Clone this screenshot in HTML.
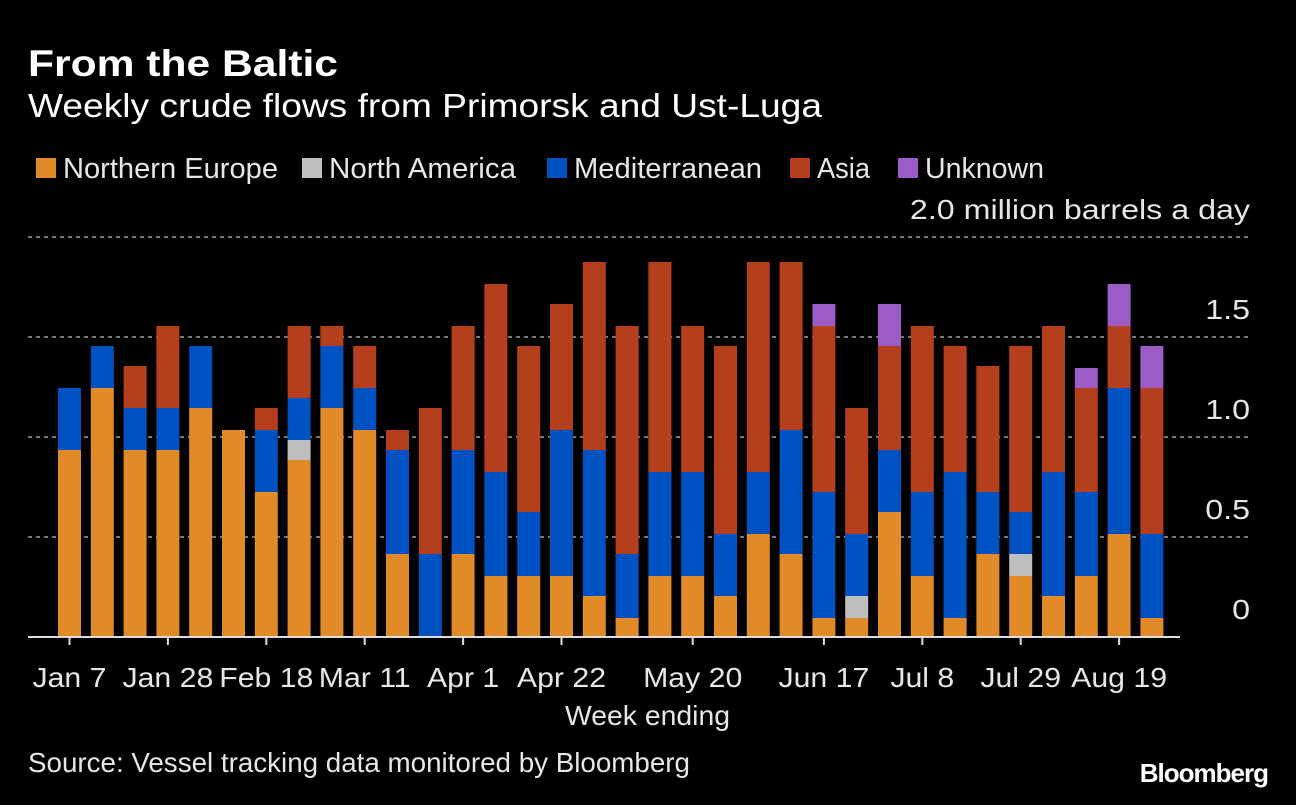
<!DOCTYPE html>
<html><head><meta charset="utf-8"><style>
body{margin:0;background:#000;width:1296px;height:800px;overflow:hidden;font-family:"Liberation Sans",sans-serif;color:#e6e6e6}
svg text{font-family:"Liberation Sans",sans-serif}
</style></head><body>
<svg id="c" width="1296" height="800">
<text x="28" y="76" font-size="37" font-weight="bold" fill="#fff" textLength="310" lengthAdjust="spacingAndGlyphs">From the Baltic</text>
<text x="28" y="117" font-size="33" fill="#fff" textLength="794" lengthAdjust="spacingAndGlyphs">Weekly crude flows from Primorsk and Ust-Luga</text>
<g id="legend"></g>
<g id="grid"></g>
<g id="bars"></g>
<g id="xaxis"></g>
<text x="565" y="725" font-size="28" fill="#e6e6e6" textLength="165" lengthAdjust="spacingAndGlyphs">Week ending</text>
<text x="28" y="772" font-size="28" fill="#e6e6e6" textLength="662" lengthAdjust="spacingAndGlyphs">Source: Vessel tracking data monitored by Bloomberg</text>
<text x="1268" y="782" font-size="26" font-weight="bold" fill="#fff" text-anchor="end" letter-spacing="-1">Bloomberg</text>
</svg>
<script>
const seriesNames=["Northern Europe","North America","Mediterranean","Asia","Unknown"];
const northernEurope=[0.935,1.245,0.935,0.935,1.145,1.035,0.725,0.885,1.145,1.035,0.415,0,0.415,0.305,0.305,0.305,0.205,0.095,0.305,0.305,0.205,0.515,0.415,0.095,0.095,0.625,0.305,0.095,0.415,0.305,0.205,0.305,0.515,0.095];
const northAmerica=[0,0,0,0,0,0,0,0.1,0,0,0,0,0,0,0,0,0,0,0,0,0,0,0,0,0.11,0,0,0,0,0.11,0,0,0,0];
const mediterranean=[0.31,0.21,0.21,0.21,0.31,0,0.31,0.21,0.31,0.21,0.52,0.415,0.52,0.52,0.32,0.73,0.73,0.32,0.52,0.52,0.31,0.31,0.62,0.63,0.31,0.31,0.42,0.73,0.31,0.21,0.62,0.42,0.73,0.42];
const asia=[0,0,0.21,0.41,0,0,0.11,0.36,0.1,0.21,0.1,0.73,0.62,0.94,0.83,0.63,0.94,1.14,1.05,0.73,0.94,1.05,0.84,0.83,0.63,0.52,0.83,0.63,0.63,0.83,0.73,0.52,0.31,0.73];
const unknown=[0,0,0,0,0,0,0,0,0,0,0,0,0,0,0,0,0,0,0,0,0,0,0,0.11,0,0.21,0,0,0,0,0,0.1,0.21,0.21];
const tickIndex=[0,3,6,9,12,15,19,23,26,29,32];
const tickLabels=["Jan 7","Jan 28","Feb 18","Mar 11","Apr 1","Apr 22","May 20","Jun 17","Jul 8","Jul 29","Aug 19"];
const yTicks=[0,0.5,1.0,1.5,2.0];
const yTickLabels=["0","0.5","1.0","1.5","2.0 million barrels a day"];
const colors=["#e08b27","#bebebe","#0051c2","#b33f1d","#9b5dc5"];
const NS="http://www.w3.org/2000/svg";
const y0=637,pxPer=200,x0=58,step=32.8,bw=23;
const yS=v=>y0-v*pxPer;
const xS=i=>x0+i*step;
function mk(t,a,p){const e=document.createElementNS(NS,t);for(const k in a)e.setAttribute(k,a[k]);p.appendChild(e);return e;}
function widen(t,f){const w=t.getComputedTextLength();t.setAttribute('textLength',w*f);t.setAttribute('lengthAdjust','spacingAndGlyphs');}
const grid=document.getElementById('grid');
yTicks.forEach((v,i)=>{
 if(v>0){const l=mk('line',{x1:28,x2:1250,y1:yS(v),y2:yS(v),stroke:'#777','stroke-width':2,'stroke-dasharray':'4 4'},grid);
 
 }
 const t=mk('text',{x:1250,y:yS(v)-18,'font-size':28,fill:'#e6e6e6','text-anchor':'end'},grid);
 t.textContent=yTickLabels[i];
 
 
 widen(t,1.15);
});
const bars=document.getElementById('bars');
const series=[northernEurope,northAmerica,mediterranean,asia,unknown];
northernEurope.forEach((_,i)=>{
 let base=0;
 series.forEach((s,k)=>{const v=s[i];if(v<=0)return;
  const r=mk('rect',{x:xS(i),y:yS(base+v),width:bw,height:v*pxPer,fill:colors[k]},bars);
  
  
  base+=v;});
});
const xa=document.getElementById('xaxis');
const ax=mk('line',{x1:28,x2:1180,y1:y0,y2:y0,stroke:'#ddd','stroke-width':2},xa);


tickIndex.forEach((ti,j)=>{const cx=xS(ti)+bw/2;
 const tk=mk('line',{x1:cx,x2:cx,y1:y0,y2:y0+8,stroke:'#ddd','stroke-width':2},xa);
 
 
 const t=mk('text',{x:cx,y:687,'font-size':28,fill:'#e6e6e6','text-anchor':'middle'},xa);
 t.textContent=tickLabels[j];
 
 
 widen(t,1.08);
});
const lg=document.getElementById('legend');
const lx=[36,302,547,790,898];
const lw=[215,187,188,53,119];
seriesNames.forEach((n,k)=>{
 const r=mk('rect',{x:lx[k],y:158,width:20,height:20,fill:colors[k]},lg);
 
 
 const t=mk('text',{x:lx[k]+27,y:178,'font-size':29,fill:'#e6e6e6',textLength:lw[k],lengthAdjust:'spacingAndGlyphs'},lg);
 t.textContent=n;
 
 
});
</script>
</body></html>
